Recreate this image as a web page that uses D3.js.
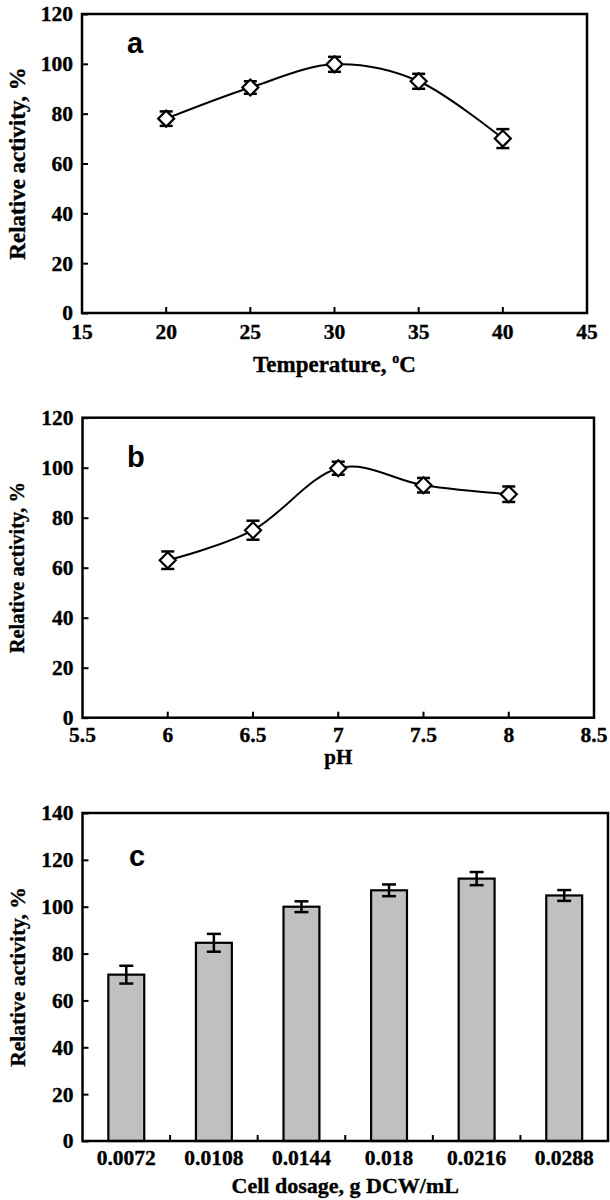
<!DOCTYPE html>
<html><head><meta charset="utf-8">
<script src="https://cdn.jsdelivr.net/npm/d3@7"></script>
<style>
html,body{margin:0;padding:0;background:#fff;}
svg{display:block;}
text{font-family:"Liberation Serif","Times New Roman",serif;font-weight:bold;fill:#000;stroke:#000;stroke-width:0.35px;}
text.lab{font-family:"Liberation Sans",Arial,sans-serif;font-weight:bold;stroke:none;}
</style></head>
<body>
<svg id="chart" width="610" height="1200"></svg>
<script>
// ---- data ----
const tempX = [20, 25, 30, 35, 40];
const tempY = [78, 90.5, 99.8, 93, 70];
const tempErr = [2.9, 2.5, 3.0, 3.0, 3.8];
const tempTicks = [15, 20, 25, 30, 35, 40, 45];

const phX = [6, 6.5, 7, 7.5, 8];
const phY = [63, 75, 99.8, 93, 89.4];
const phErr = [3.5, 3.8, 2.6, 2.9, 3.1];
const phTicks = [5.5, 6, 6.5, 7, 7.5, 8, 8.5];

const dosage = ["0.0072", "0.0108", "0.0144", "0.018", "0.0216", "0.0288"];
const dosY = [71, 84.6, 100, 107, 112, 104.8];
const dosErr = [3.8, 3.8, 2.3, 2.5, 2.8, 2.3];

const yTicksAB = [0, 20, 40, 60, 80, 100, 120];
const yTicksC = [0, 20, 40, 60, 80, 100, 120, 140];

const svg = d3.select("#chart");
const AX = 2.5;
const TICKFS = 21.5;

function frame(g, x0, x1, y0, y1){
  g.append("rect").attr("x", x0).attr("y", y1).attr("width", x1 - x0).attr("height", y0 - y1)
    .attr("fill", "none").attr("stroke", "#000").attr("stroke-width", AX);
}

function yAxis(g, y, ticks, x0, fs){
  const ax = d3.axisLeft(y).tickValues(ticks).tickSizeInner(-6).tickSizeOuter(0).tickPadding(9);
  const a = g.append("g").attr("transform", `translate(${x0},0)`).call(ax);
  a.select(".domain").remove();
  a.selectAll("line").attr("stroke", "#000").attr("stroke-width", 2);
  a.selectAll("text").attr("font-size", fs).attr("font-family", "Liberation Serif").attr("font-weight", "bold").attr("fill", "#000");
}

function yTitle(g, x, yc, fs){
  g.append("text").attr("transform", `translate(${x},${yc}) rotate(-90)`)
    .attr("text-anchor", "middle").attr("dominant-baseline", "central")
    .attr("font-size", fs).text("Relative activity, %");
}

function linePanel(opts){
  const {xs, ys, errs, xTicks, x0, x1, y0, y1, xDom, xBase, titleBase, title, titleFs, letter, letterBase, ytFs} = opts;
  const g = svg.append("g");
  const x = d3.scaleLinear().domain(xDom).range([x0, x1]);
  const y = d3.scaleLinear().domain([0, 120]).range([y0, y1]);
  g.selectAll(".xt").data(xTicks.slice(1, -1)).join("line")
    .attr("x1", d => x(d)).attr("x2", d => x(d)).attr("y1", y0).attr("y2", y0 - 6)
    .attr("stroke", "#000").attr("stroke-width", 2);
  g.selectAll(".xl").data(xTicks).join("text")
    .attr("x", d => x(d)).attr("y", xBase).attr("text-anchor", "middle").attr("font-size", TICKFS)
    .text(d => d);
  yAxis(g, y, yTicksAB, x0, TICKFS);
  frame(g, x0, x1, y0, y1);
  const pts = xs.map((d, i) => [x(d), y(ys[i])]);
  g.append("path").attr("d", d3.line().curve(d3.curveCatmullRom.alpha(0))(pts))
    .attr("fill", "none").attr("stroke", "#000").attr("stroke-width", 2);
  const eb = g.selectAll(".eb").data(xs.map((d, i) => ({x: d, y: ys[i], e: errs[i]}))).join("g");
  eb.append("line").attr("x1", d => x(d.x)).attr("x2", d => x(d.x))
    .attr("y1", d => y(d.y - d.e)).attr("y2", d => y(d.y + d.e)).attr("stroke", "#000").attr("stroke-width", 2.5);
  eb.append("line").attr("x1", d => x(d.x) - 6.5).attr("x2", d => x(d.x) + 6.5)
    .attr("y1", d => y(d.y + d.e)).attr("y2", d => y(d.y + d.e)).attr("stroke", "#000").attr("stroke-width", 2.5);
  eb.append("line").attr("x1", d => x(d.x) - 6.5).attr("x2", d => x(d.x) + 6.5)
    .attr("y1", d => y(d.y - d.e)).attr("y2", d => y(d.y - d.e)).attr("stroke", "#000").attr("stroke-width", 2.5);
  eb.append("path").attr("transform", d => `translate(${x(d.x)},${y(d.y)})`)
    .attr("d", "M0,-8L8,0L0,8L-8,0Z").attr("fill", "#fff").attr("stroke", "#000").attr("stroke-width", 2.2);
  g.append("text").attr("x", (x0 + x1) / 2).attr("y", titleBase).attr("text-anchor", "middle")
    .attr("font-size", titleFs).html(title);
  yTitle(g, 17, (y0 + y1) / 2, ytFs);
  g.append("text").attr("class", "lab").attr("x", 127).attr("y", letterBase).attr("font-size", 29).text(letter);
}

linePanel({xs: tempX, ys: tempY, errs: tempErr, xTicks: tempTicks, x0: 82, x1: 587, y0: 313, y1: 14,
  xDom: [15, 45], xBase: 339, titleBase: 372, titleFs: 23,
  title: 'Temperature, <tspan font-size="14" dy="-9">o</tspan><tspan dy="9">C</tspan>',
  letter: "a", letterBase: 53, ytFs: 23});

linePanel({xs: phX, ys: phY, errs: phErr, xTicks: phTicks, x0: 82.5, x1: 594, y0: 717.7, y1: 417.7,
  xDom: [5.5, 8.5], xBase: 742, titleBase: 764, titleFs: 21, title: "pH",
  letter: "b", letterBase: 467, ytFs: 20.5});

// ---- panel c ----
(function(){
  const g = svg.append("g");
  const x0 = 82.5, x1 = 608, y0 = 1141, y1 = 813;
  const x = d3.scaleBand().domain(dosage).range([x0, x1]).paddingInner(0).paddingOuter(0);
  const y = d3.scaleLinear().domain([0, 140]).range([y0, y1]);
  const bw = x.bandwidth() * 0.41;
  g.selectAll(".bar").data(dosage).join("rect")
    .attr("x", d => x(d) + x.bandwidth() / 2 - bw / 2).attr("width", bw)
    .attr("y", (d, i) => y(dosY[i])).attr("height", (d, i) => y0 - y(dosY[i]))
    .attr("fill", "#c0c0c0").attr("stroke", "#000").attr("stroke-width", 2.2);
  g.selectAll(".xt").data(dosage.slice(1)).join("line")
    .attr("x1", d => x(d)).attr("x2", d => x(d)).attr("y1", y0).attr("y2", y0 - 6)
    .attr("stroke", "#000").attr("stroke-width", 2);
  g.selectAll(".xl").data(dosage).join("text")
    .attr("x", d => x(d) + x.bandwidth() / 2).attr("y", 1165).attr("text-anchor", "middle").attr("font-size", TICKFS)
    .text(d => d);
  yAxis(g, y, yTicksC, x0, TICKFS);
  frame(g, x0, x1, y0, y1);
  const eb = g.selectAll(".eb").data(dosage.map((d, i) => ({c: d, y: dosY[i], e: dosErr[i]}))).join("g");
  const cx = d => x(d.c) + x.bandwidth() / 2;
  eb.append("line").attr("x1", cx).attr("x2", cx)
    .attr("y1", d => y(d.y - d.e)).attr("y2", d => y(d.y + d.e)).attr("stroke", "#000").attr("stroke-width", 2.5);
  eb.append("line").attr("x1", d => cx(d) - 7).attr("x2", d => cx(d) + 7)
    .attr("y1", d => y(d.y + d.e)).attr("y2", d => y(d.y + d.e)).attr("stroke", "#000").attr("stroke-width", 2.5);
  eb.append("line").attr("x1", d => cx(d) - 7).attr("x2", d => cx(d) + 7)
    .attr("y1", d => y(d.y - d.e)).attr("y2", d => y(d.y - d.e)).attr("stroke", "#000").attr("stroke-width", 2.5);
  g.append("text").attr("x", (x0 + x1) / 2).attr("y", 1193).attr("text-anchor", "middle")
    .attr("font-size", 22).text("Cell dosage, g DCW/mL");
  yTitle(g, 17.5, (y0 + y1) / 2, 21.5);
  g.append("text").attr("class", "lab").attr("x", 129).attr("y", 866).attr("font-size", 29).text("c");
})();
</script>
</body></html>
